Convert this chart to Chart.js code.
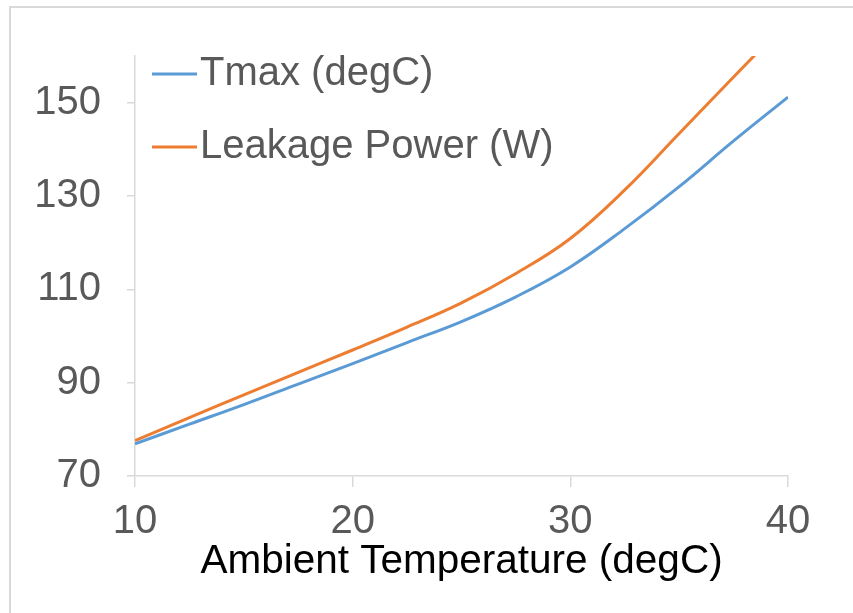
<!DOCTYPE html>
<html>
<head>
<meta charset="utf-8">
<script src="https://cdn.jsdelivr.net/npm/chart.js@4/dist/chart.umd.min.js"></script>
<style>
  html, body { margin: 0; padding: 0; background: #fff; }
  #wrap { position: relative; width: 853px; height: 613px; overflow: hidden; }
  #frame { position: absolute; left: 9px; top: 6px; right: -10px; bottom: -10px; border-top: 2px solid #d9d9d9; border-left: 2px solid #d9d9d9; }
  canvas { position: absolute; left: 0; top: 0; }
</style>
</head>
<body>
<div id="wrap">
  <div id="frame"></div>
  <canvas id="chart" width="853" height="613"></canvas>
</div>
<script>
const temps = [10, 12.5, 15, 17.5, 20, 22.5, 25, 27.5, 30, 32.5, 35, 37.5, 40];
const tmax = [76.9, 81.1, 85.3, 89.7, 94.1, 98.6, 103.1, 108.4, 114.8, 123.0, 132.0, 141.8, 151.2];
const leakage = [77.6, 82.5, 87.4, 92.2, 97.0, 101.9, 107.1, 113.4, 120.9, 131.3, 143.4, 155.5, 167.5];
const xTicks = [10, 20, 30, 40];
const yTicks = [70, 90, 110, 130, 150];

const font = "'Liberation Sans', Arial, sans-serif";
const axisGray = '#d9d9d9';

// legend drawn inside the plot, top-left, Excel style
const innerLegend = {
    id: 'innerLegend',
    afterDraw(chart) {
        const ctx = chart.ctx;
        ctx.save();
        ctx.font = '40px ' + font;
        ctx.textBaseline = 'middle';
        ctx.fillStyle = '#595959';
        chart.data.datasets.forEach((ds, i) => {
            const y = 74 + i * 73;
            ctx.strokeStyle = ds.borderColor;
            ctx.lineWidth = 3;
            ctx.beginPath();
            ctx.moveTo(152, y);
            ctx.lineTo(197, y);
            ctx.stroke();
            ctx.fillText(ds.label, 200, y);
        });
        ctx.restore();
    }
};

const pts = arr => temps.map((t, i) => ({ x: t, y: arr[i] }));

new Chart(document.getElementById('chart'), {
    type: 'line',
    data: {
        datasets: [
            { label: 'Tmax (degC)', data: pts(tmax), borderColor: '#5b9bd5', borderWidth: 3, pointRadius: 0, tension: 0.4, clip: 0 },
            { label: 'Leakage Power (W)', data: pts(leakage), borderColor: '#ed7d31', borderWidth: 3, pointRadius: 0, tension: 0.4, clip: 0 }
        ]
    },
    options: {
        responsive: false,
        animation: false,
        layout: { padding: { left: 0, right: 65, top: 56, bottom: 0 } },
        plugins: { legend: { display: false }, tooltip: { enabled: false } },
        scales: {
            x: {
                type: 'linear', min: 10, max: 40,
                afterBuildTicks: a => { a.ticks = xTicks.map(v => ({ value: v })); },
                afterFit: s => { s.height = 137; },
                grid: { drawOnChartArea: false, drawTicks: true, tickLength: 11, color: axisGray, lineWidth: 1.5 },
                border: { color: axisGray, width: 1.5 },
                ticks: { color: '#595959', font: { family: font, size: 40 }, padding: 11, maxRotation: 0 },
                title: { display: true, text: 'Ambient Temperature (degC)', color: '#000', font: { family: font, size: 40.5 }, padding: { top: 0, bottom: 27 } }
            },
            y: {
                min: 70, max: 160,
                afterBuildTicks: a => { a.ticks = yTicks.map(v => ({ value: v })); },
                afterFit: s => { s.width = 135; },
                grid: { drawOnChartArea: false, drawTicks: true, tickLength: 8, color: axisGray, lineWidth: 1.5 },
                border: { color: axisGray, width: 1.5 },
                ticks: { color: '#595959', font: { family: font, size: 40 }, padding: 26 }
            }
        }
    },
    plugins: [innerLegend]
});
</script>
</body>
</html>
